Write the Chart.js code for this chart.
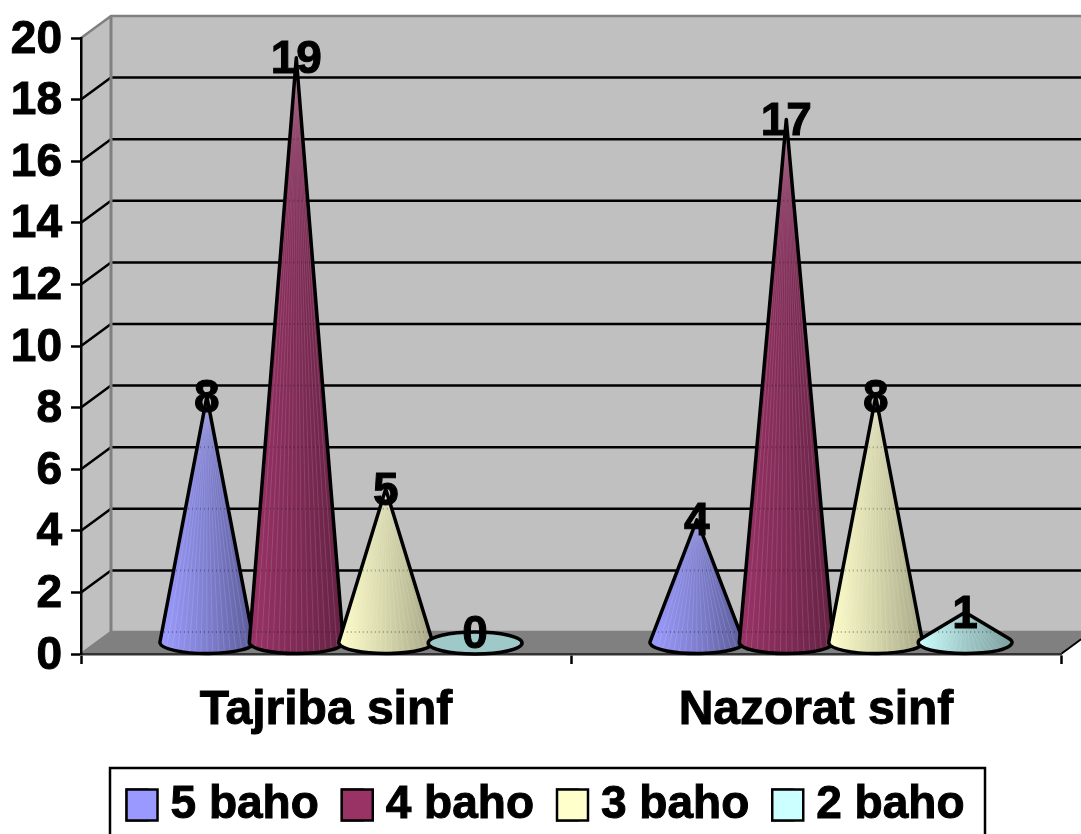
<!DOCTYPE html>
<html>
<head>
<meta charset="utf-8">
<style>
  html, body { margin: 0; padding: 0; background: #fff; overflow: hidden; }
  canvas { display: block; }
</style>
</head>
<body>
<canvas id="chart" width="1081" height="834"></canvas>
<script src="https://cdn.jsdelivr.net/npm/chart.js@4"></script>
<script>
// values
const categories = ['Tajriba sinf', 'Nazorat sinf'];
const seriesNames = ['5 baho', '4 baho', '3 baho', '2 baho'];
const baho5 = [8, 4];
const baho4 = [19, 17];
const baho3 = [5, 8];
const baho2 = [0, 1];
const seriesValues = [baho5, baho4, baho3, baho2];

const seriesColors = ['#9999ff', '#993366', '#ffffcc', '#ccffff'];
// left, middle, right shade of each cone
const coneShades = [
  ['#9c9cff', '#7f7fd0', '#5c5c9a'],
  ['#993366', '#802b56', '#662244'],
  ['#ffffcc', '#d6d6ab', '#a8a888'],
  ['#ccffff', '#9fc8c8', '#7f9f9f']
];

const FAMILY = '"Liberation Sans", Arial, sans-serif';
const DEPTH_X = 30;   // back wall offset from the front plane
const DEPTH_Y = 22;

// walls, floor and the gridlines that run along them
const walls = {
  id: 'walls',
  beforeDraw(chart) {
    const { ctx, chartArea: a, scales: { y } } = chart;
    y.left = 0; // otherwise the wide tick labels get clipped by the layout padding
    const back = y.getPixelForValue(0) - DEPTH_Y;
    const top = y.getPixelForValue(20) - DEPTH_Y;
    ctx.save();
    ctx.fillStyle = '#c0c0c0';
    ctx.fillRect(a.left + DEPTH_X, top, chart.width, back - top);
    ctx.beginPath();
    ctx.moveTo(a.left, a.top);
    ctx.lineTo(a.left + DEPTH_X, top);
    ctx.lineTo(a.left + DEPTH_X, back);
    ctx.lineTo(a.left, a.bottom);
    ctx.closePath();
    ctx.fill();

    ctx.fillStyle = '#808080';
    ctx.beginPath();
    ctx.moveTo(a.left, a.bottom);
    ctx.lineTo(a.left + DEPTH_X, back);
    ctx.lineTo(a.right + DEPTH_X, back);
    ctx.lineTo(a.right, a.bottom);
    ctx.closePath();
    ctx.fill();

    y.ticks.forEach(t => {
      const py = y.getPixelForValue(t.value);
      const edge = t.value === 0 || t.value === 20;
      ctx.strokeStyle = edge ? '#808080' : '#000';
      ctx.lineWidth = 2.5;
      ctx.beginPath();
      ctx.moveTo(a.left, py);
      ctx.lineTo(a.left + DEPTH_X, py - DEPTH_Y);
      ctx.lineTo(chart.width, py - DEPTH_Y);
      ctx.stroke();
    });

    ctx.strokeStyle = '#808080';
    ctx.lineWidth = 3;
    ctx.beginPath();
    ctx.moveTo(a.left + DEPTH_X, top);
    ctx.lineTo(a.left + DEPTH_X, back);
    ctx.stroke();

    // right edge of the floor
    ctx.strokeStyle = '#000';
    ctx.lineWidth = 2;
    ctx.beginPath();
    ctx.moveTo(a.right, a.bottom);
    ctx.lineTo(a.right + DEPTH_X * 0.67, a.bottom - DEPTH_Y * 0.67);
    ctx.stroke();
    ctx.restore();
  }
};

function drawCone(ctx, bar, shades, yScale) {
  const cx = bar.x + DEPTH_X / 2;
  const cy = bar.base - DEPTH_Y / 2;
  const rx = bar.width * 0.525;
  const ry = DEPTH_Y / 2;
  const h = bar.base - bar.y;

  const outline = () => {
    ctx.beginPath();
    if (h <= ry) {
      ctx.ellipse(cx, cy, rx, ry, 0, 0, Math.PI * 2);
    } else {
      const t = Math.asin(ry / h);
      ctx.moveTo(cx, cy - h);
      ctx.ellipse(cx, cy, rx, ry, 0, -t, Math.PI + t);
      ctx.closePath();
    }
  };

  ctx.save();
  outline();
  if (h <= ry) {
    ctx.fillStyle = shades[1];
    ctx.fill();
  } else {
    const g = ctx.createLinearGradient(cx - rx, 0, cx + rx, 0);
    g.addColorStop(0, shades[0]);
    g.addColorStop(0.5, shades[1]);
    g.addColorStop(1, shades[2]);
    ctx.fillStyle = g;
    ctx.fill();

    ctx.save();
    ctx.clip();
    // thin facets running down from the tip
    ctx.strokeStyle = 'rgba(255,255,255,0.13)';
    ctx.lineWidth = 1;
    for (let i = 1; i < 16; i++) {
      const fx = cx - rx + (2 * rx * i) / 16;
      ctx.beginPath();
      ctx.moveTo(cx, cy - h);
      ctx.lineTo(fx, cy + ry);
      ctx.stroke();
    }
    // gridlines faintly dotted through the cone
    ctx.strokeStyle = 'rgba(0,0,0,0.3)';
    ctx.setLineDash([1, 3]);
    ctx.lineWidth = 2;
    yScale.ticks.forEach(t => {
      const py = yScale.getPixelForValue(t.value) - DEPTH_Y;
      ctx.beginPath();
      ctx.moveTo(cx - rx, py);
      ctx.lineTo(cx + rx, py);
      ctx.stroke();
    });
    ctx.restore();
  }
  outline();
  ctx.strokeStyle = '#000';
  ctx.lineWidth = 3.5;
  ctx.lineJoin = 'round';
  ctx.stroke();
  ctx.restore();
}

// bars are replaced by cones standing mid-way in the depth of the floor
const cones = {
  id: 'cones',
  beforeDatasetDraw() {
    return false;
  },
  afterDatasetsDraw(chart) {
    const { ctx } = chart;
    seriesNames.forEach((name, s) => {
      chart.getDatasetMeta(s).data.forEach(bar => drawCone(ctx, bar, coneShades[s], chart.scales.y));
    });
    ctx.save();
    ctx.font = 'bold 46px ' + FAMILY;
    ctx.fillStyle = '#000';
    ctx.strokeStyle = '#000';
    ctx.lineWidth = 1;
    ctx.textAlign = 'center';
    ctx.textBaseline = 'middle';
    seriesNames.forEach((name, s) => {
      chart.getDatasetMeta(s).data.forEach((bar, i) => {
        const v = seriesValues[s][i];
        const tipY = bar.y - DEPTH_Y / 2;
        const ly = v === 0 ? tipY - DEPTH_Y / 2 + 3 : tipY + 3;
        ctx.fillText(String(v), bar.x + DEPTH_X / 2, ly);
        ctx.strokeText(String(v), bar.x + DEPTH_X / 2, ly);
      });
    });
    ctx.restore();
  }
};

// legend frame, full-size swatches and heavier legend text
const legendFrame = {
  id: 'legendFrame',
  afterDraw(chart) {
    const { ctx, legend } = chart;
    ctx.save();
    ctx.strokeStyle = '#000';
    ctx.lineWidth = 2.5;
    ctx.strokeRect(110, 768, 875, 80);
    ctx.font = 'bold 46px ' + FAMILY;
    ctx.textBaseline = 'middle';
    legend.legendHitBoxes.forEach((b, i) => {
      const boxTop = b.top + (46 - 31) / 2;
      ctx.fillStyle = seriesColors[i];
      ctx.lineWidth = 2.5;
      ctx.fillRect(b.left, boxTop, 31, 31);
      ctx.strokeRect(b.left, boxTop, 31, 31);
      ctx.lineWidth = 1;
      ctx.strokeText(seriesNames[i], b.left + 21 + 23, b.top + b.height / 2);
    });
    ctx.restore();
  }
};

new Chart(document.getElementById('chart').getContext('2d'), {
  type: 'bar',
  data: {
    labels: categories,
    datasets: seriesNames.map((name, s) => ({
      label: name,
      data: seriesValues[s],
      backgroundColor: seriesColors[s],
      borderColor: '#000',
      borderWidth: 2
    }))
  },
  options: {
    responsive: false,
    animation: false,
    layout: { padding: { top: 38, right: 20, left: 30, bottom: -4 } },
    datasets: { bar: { barPercentage: 1, categoryPercentage: 0.73 } },
    scales: {
      x: {
        afterFit(scale) { scale.height = 184 - scale.chart.legend.height; },
        grid: { drawOnChartArea: false, tickLength: 10, tickColor: '#000', tickWidth: 2.5 },
        border: { color: '#333', width: 2.5 },
        ticks: { color: '#000', font: { family: FAMILY, size: 48, weight: 'bold' }, padding: 18, maxRotation: 0, textStrokeColor: '#000', textStrokeWidth: 1 }
      },
      y: {
        min: 0,
        max: 20,
        afterFit(scale) { scale.width = 51; },
        grid: { drawOnChartArea: false, tickLength: 10, tickColor: '#000', tickWidth: 2.5 },
        border: { color: '#000', width: 2.5 },
        ticks: { stepSize: 2, color: '#000', font: { family: FAMILY, size: 46, weight: 'bold' }, padding: 9, labelOffset: 2, textStrokeColor: '#000', textStrokeWidth: 1 }
      }
    },
    plugins: {
      tooltip: { enabled: false },
      legend: {
        position: 'bottom',
        labels: {
          color: '#000',
          font: { family: FAMILY, size: 46, weight: 'bold' },
          boxWidth: 21,
          boxHeight: 31,
          padding: 23
        }
      }
    }
  },
  plugins: [walls, cones, legendFrame]
});
</script>
</body>
</html>
